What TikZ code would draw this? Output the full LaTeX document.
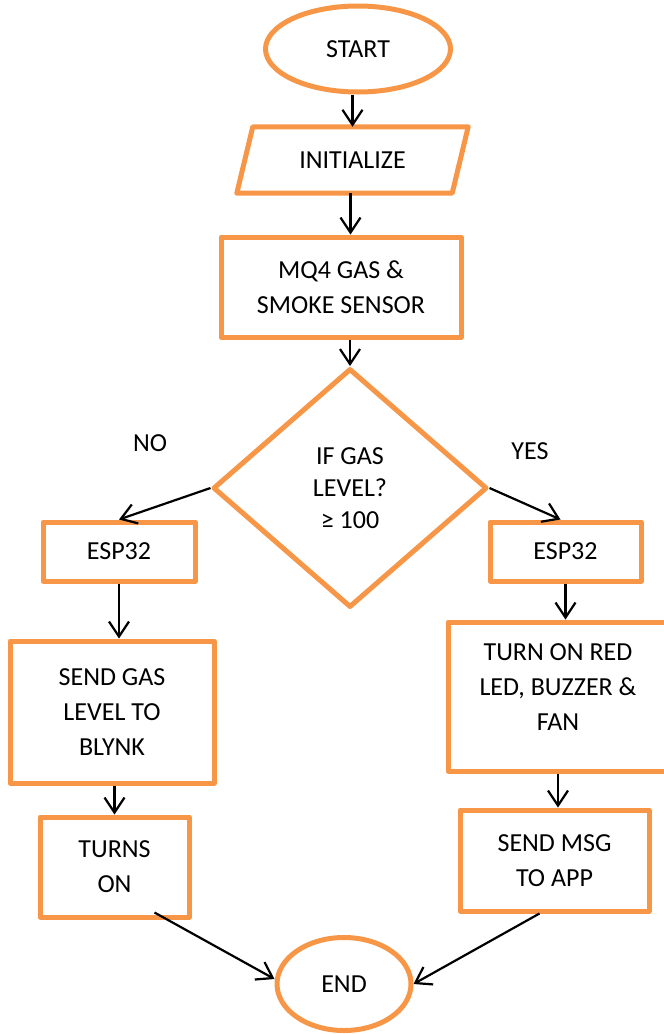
\documentclass[tikz,border=0pt]{standalone}
\usepackage{fontspec}
\setmainfont{Carlito}
\usetikzlibrary{arrows.meta,shapes.geometric}
\definecolor{boxorange}{HTML}{F79646}
\newcommand\flowfont{\fontsize{26}{35}\selectfont}
\newcommand\decfont{\fontsize{26}{32}\selectfont}
\tikzset{
  outline/.style={draw=boxorange, line width=5pt, line join=round},
  box/.style={outline, rectangle, align=center, inner sep=0pt, font=\flowfont},
  term/.style={outline, ellipse, align=center, inner sep=0pt, font=\flowfont},
  plain/.style={rectangle, align=center, inner sep=0pt, font=\flowfont},
  decision/.style={outline, diamond, align=center, inner sep=0pt, font=\decfont},
  lbl/.style={font=\flowfont, inner sep=0pt},
  arr/.style={line width=2.2pt, -{Straight Barb[length=15pt,width=20pt]}}
}
\begin{document}
\begin{tikzpicture}[x=1pt,y=-1pt]
\useasboundingbox (0,0) rectangle (664,1034);
% nodes
\node[term, minimum width=185pt, minimum height=86pt] (start) at (358,49) {START};
\node[plain, minimum width=231pt, minimum height=66pt] (init) at (352.5,160) {INITIALIZE};
\draw[outline] ([xshift=16pt]init.north west) -- (init.north east)
  -- ([xshift=-16pt]init.south east) -- (init.south west) -- cycle;
\node[box, minimum width=240pt, minimum height=100pt] (mq4) at (341,287) {MQ4 GAS \&\\SMOKE SENSOR};
\node[decision, minimum width=274pt, minimum height=239pt] (dec) at (350,488) {IF GAS\\LEVEL?\\≥ 100};
\node[lbl] (no) at (150,443) {NO};
\node[lbl] (yes) at (530,451) {YES};
\node[box, minimum width=152pt, minimum height=59pt] (escL) at (119,551.5) {ESP32};
\node[box, minimum width=151pt, minimum height=59pt] (escR) at (565.5,551.5) {ESP32};
\node[box, minimum width=204pt, minimum height=142pt] (send) at (112,712) {SEND GAS\\LEVEL TO\\BLYNK};
\node[box, minimum width=149pt, minimum height=100pt] (turns) at (114.5,867) {TURNS\\ON};
\node[box, minimum width=220pt, minimum height=149pt,
  label={[lbl, align=center, yshift=9pt]center:TURN ON RED\\LED, BUZZER \&\\FAN}] (turnon) at (558,696.5) {};
\node[box, minimum width=189pt, minimum height=101pt] (sendmsg) at (554.5,860.5) {SEND MSG\\TO APP};
\node[term, minimum width=134pt, minimum height=93pt] (end) at (344,984) {END};
% connectors
\draw[arr] (start.south -| init.north) -- (init.north);
\draw[arr] ([xshift=-2pt]init.south) -- ([xshift=-2pt]init.south |- mq4.north);
\draw[arr] (mq4.south -| dec.north) -- (dec.north);
\draw[arr] (dec.west) -- (escL.north);
\draw[arr] (dec.east) -- ([xshift=-5pt]escR.north);
\draw[arr] (escL.south) -- (escL.south |- send.north);
\draw[arr] (send.south -| turns.north) -- (turns.north);
\draw[arr] (escR.south) -- (escR.south |- turnon.north);
\draw[arr] (turnon.south) -- (turnon.south |- sendmsg.north);
\draw[arr] ([xshift=40pt,yshift=7pt]turns.south) -- ([yshift=5pt]end.west);
\draw[arr] ([xshift=-15pt]sendmsg.south) -- (end.east);
\end{tikzpicture}
\end{document}
